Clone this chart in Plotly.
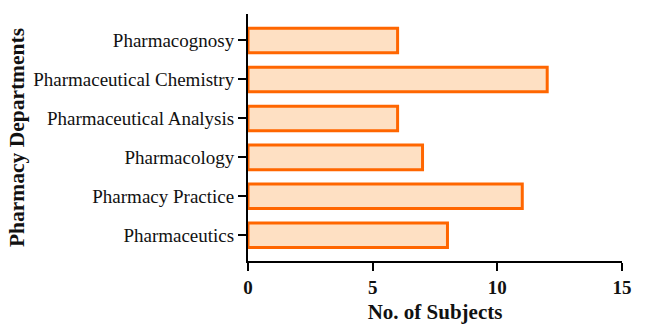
import plotly.graph_objects as go

# Departments listed bottom-to-top so the first one sits at the bottom
departments = [
    "Pharmaceutics",
    "Pharmacy Practice",
    "Pharmacology",
    "Pharmaceutical Analysis",
    "Pharmaceutical Chemistry",
    "Pharmacognosy",
]
subjects = [8, 11, 7, 6, 12, 6]

x_ticks = [0, 5, 10, 15]

font_family = "Liberation Serif, Times New Roman, serif"

fig = go.Figure(
    go.Bar(
        x=subjects,
        y=departments,
        orientation="h",
        width=0.63,
        marker=dict(color="#FEE0C3", line=dict(color="#FF6600", width=3)),
    )
)

fig.update_layout(
    width=645,
    height=332,
    margin=dict(l=248, r=23, t=14, b=68),
    paper_bgcolor="white",
    plot_bgcolor="white",
    showlegend=False,
    font=dict(family=font_family, color="black"),
    xaxis=dict(
        range=[0, 15],
        tickvals=x_ticks,
        ticktext=[str(v) for v in x_ticks],
        showgrid=False,
        zeroline=False,
        showline=True,
        linecolor="black",
        linewidth=2,
        ticks="outside",
        ticklen=8,
        tickwidth=2,
        tickcolor="black",
        tickfont=dict(family=font_family, size=19, color="#111111", weight="bold"),
        title=dict(
            text="<b>No. of Subjects</b>",
            font=dict(family=font_family, size=21, color="#111111"),
            standoff=8,
        ),
    ),
    yaxis=dict(
        range=[-0.66, 5.68],
        showgrid=False,
        zeroline=False,
        showline=True,
        linecolor="black",
        linewidth=2,
        ticks="outside",
        ticklen=8,
        tickwidth=2,
        tickcolor="black",
        tickfont=dict(family=font_family, size=19, color="#111111"),
        title=dict(
            text="<b>Pharmacy Departments</b>",
            font=dict(family=font_family, size=21.5, color="#111111"),
            standoff=3,
        ),
    ),
)

fig.write_html("out.html")
